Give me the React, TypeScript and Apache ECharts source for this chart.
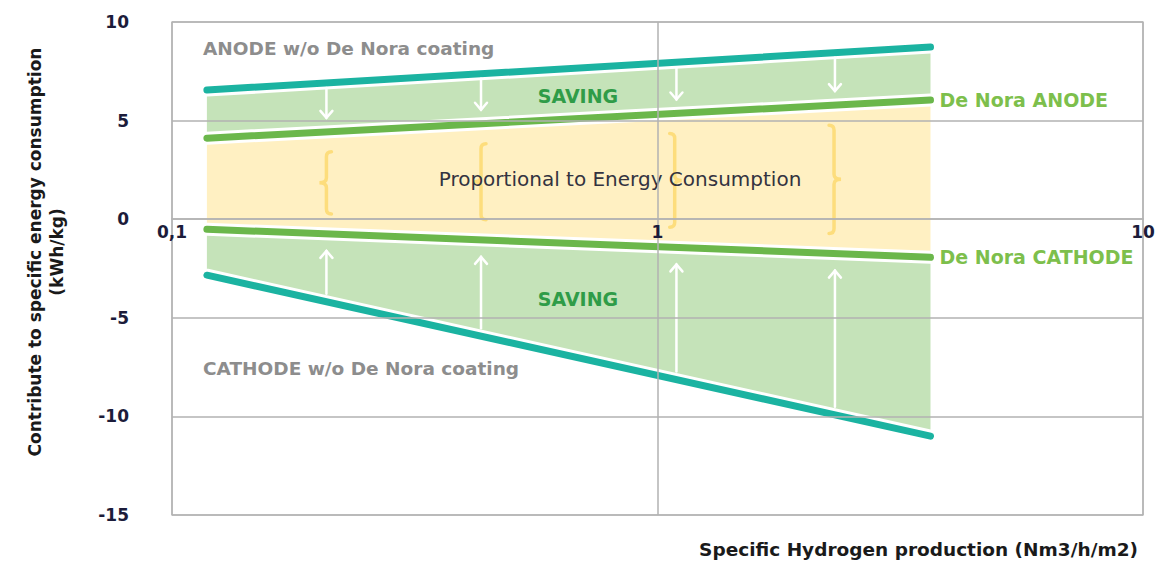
import React, { useEffect, useRef } from "react";
import * as echarts from "echarts";

// ---- data ----
const X_RANGE = [0.118, 3.65]; // Specific hydrogen production (Nm3/h/m2) at line ends
const ANODE_WO = [6.55, 8.73];
const DENORA_ANODE = [4.11, 6.04];
const DENORA_CATHODE = [-0.51, -1.93];
const CATHODE_WO = [-2.84, -11.0];
const ARROW_X = [0.208, 0.433, 1.094, 2.32];
const BRACE_X = [0.208, 0.433, 1.085, 2.31];
const BRACE_SIDE = ["left", "left", "right", "right"];
const X_MIN = 0.1;
const X_MAX = 10;
const Y_MIN = -15;
const Y_MAX = 10;
const Y_STEP = 5;

const TEAL = "#1bb3a1";
const GREEN = "#6bb74b";
const LIGHT_GREEN = "#c5e3b9";
const YELLOW = "#fff0c2";
const BRACE = "#fddd7c";
const GRID_LINE = "#b2b2b2";
const FONT = "DejaVu Sans";

const GRID_TOP = 22;
const GRID_BOTTOM = 48;
const CHART_H = 563;

const BANDS = [
  { top: ANODE_WO, bot: DENORA_ANODE, color: LIGHT_GREEN },
  { top: DENORA_ANODE, bot: DENORA_CATHODE, color: YELLOW },
  { top: DENORA_CATHODE, bot: CATHODE_WO, color: LIGHT_GREEN },
];

function at(line: number[], x: number) {
  const t =
    (Math.log(x) - Math.log(X_RANGE[0])) /
    (Math.log(X_RANGE[1]) - Math.log(X_RANGE[0]));
  return line[0] + t * (line[1] - line[0]);
}

function lineSeries(name: string, vals: number[], color: string, endLabel: boolean) {
  const data = [
    [X_RANGE[0], vals[0]],
    [X_RANGE[1], vals[1]],
  ];
  return [
    {
      type: "line",
      name: name + "_gap",
      data,
      symbol: "none",
      silent: true,
      z: 3,
      lineStyle: { color: "#ffffff", width: 13, cap: "round" },
    },
    {
      type: "line",
      name,
      data,
      symbol: "none",
      silent: true,
      z: 4,
      lineStyle: { color, width: 7, cap: "round" },
      endLabel: endLabel
        ? {
            show: true,
            formatter: name,
            color: "#7dbf4c",
            fontFamily: FONT,
            fontWeight: "bold",
            fontSize: 19,
            distance: 9,
          }
        : { show: false },
    },
  ];
}

export default function App() {
  const ref = useRef<HTMLDivElement>(null);
  useEffect(() => {
    document.body.style.margin = "0";
    const chart = echarts.init(ref.current!, null, { renderer: "svg" });
    const plotH = CHART_H - GRID_TOP - GRID_BOTTOM;
    const zeroOffset = -((0 - Y_MIN) / (Y_MAX - Y_MIN)) * plotH;
    const option: any = {
      animation: false,
      backgroundColor: "#ffffff",
      grid: {
        left: 172,
        right: 21,
        top: GRID_TOP,
        bottom: GRID_BOTTOM,
        show: true,
        borderColor: "#c4c4c4",
        borderWidth: 1.5,
      },
      xAxis: {
        type: "log",
        logBase: 10,
        min: X_MIN,
        max: X_MAX,
        offset: zeroOffset,
        z: 10,
        axisLine: { show: true, onZero: false, lineStyle: { color: GRID_LINE, width: 1.5 } },
        axisTick: { show: false },
        splitLine: { show: true, lineStyle: { color: GRID_LINE, width: 1.5 } },
        axisLabel: {
          fontFamily: FONT,
          fontSize: 17,
          fontWeight: "bold",
          color: "#1c1c3a",
          margin: 4,
          formatter: (v: number) => String(v).replace(".", ","),
        },
      },
      yAxis: {
        type: "value",
        min: Y_MIN,
        max: Y_MAX,
        interval: Y_STEP,
        z: 10,
        axisLine: { show: false },
        axisTick: { show: false },
        splitLine: { show: true, lineStyle: { color: GRID_LINE, width: 1.5 } },
        axisLabel: {
          fontFamily: FONT,
          fontSize: 17,
          fontWeight: "bold",
          color: "#1c1c3a",
          margin: 43,
        },
      },
      series: [
        {
          type: "custom",
          name: "bands",
          silent: true,
          z: 1,
          data: BANDS.map((b) => [X_RANGE[0], b.top[0]]),
          renderItem: (params: any, api: any) => {
            const b = BANDS[params.dataIndex];
            const pts = [
              api.coord([X_RANGE[0], b.top[0]]),
              api.coord([X_RANGE[1], b.top[1]]),
              api.coord([X_RANGE[1], b.bot[1]]),
              api.coord([X_RANGE[0], b.bot[0]]),
            ];
            return { type: "polygon", shape: { points: pts }, style: { fill: b.color } };
          },
        },
        ...lineSeries("ANODE w/o De Nora coating", ANODE_WO, TEAL, false),
        ...lineSeries("De Nora ANODE", DENORA_ANODE, GREEN, true),
        ...lineSeries("De Nora CATHODE", DENORA_CATHODE, GREEN, true),
        ...lineSeries("CATHODE w/o De Nora coating", CATHODE_WO, TEAL, false),
        {
          type: "custom",
          name: "arrows",
          silent: true,
          z: 5,
          data: ARROW_X.map((x) => [x, 0]),
          renderItem: (params: any, api: any) => {
            const x = ARROW_X[params.dataIndex];
            const aT = api.coord([x, at(ANODE_WO, x)]);
            const aG = api.coord([x, at(DENORA_ANODE, x)]);
            const cG = api.coord([x, at(DENORA_CATHODE, x)]);
            const cT = api.coord([x, at(CATHODE_WO, x)]);
            const px = aT[0];
            const st = { stroke: "#ffffff", lineWidth: 2.5, fill: "none", lineCap: "round" };
            const dTop = aT[1] + 5;
            const dTip = aG[1] - 14;
            const uBot = cT[1] - 8;
            const uTip = cG[1] + 17;
            return {
              type: "group",
              children: [
                { type: "line", shape: { x1: px, y1: dTop, x2: px, y2: dTip }, style: st },
                {
                  type: "polyline",
                  shape: { points: [[px - 6, dTip - 7], [px, dTip], [px + 6, dTip - 7]] },
                  style: st,
                },
                { type: "line", shape: { x1: px, y1: uBot, x2: px, y2: uTip }, style: st },
                {
                  type: "polyline",
                  shape: { points: [[px - 6, uTip + 7], [px, uTip], [px + 6, uTip + 7]] },
                  style: st,
                },
              ],
            };
          },
        },
        {
          type: "custom",
          name: "braces",
          silent: true,
          z: 5,
          data: BRACE_X.map((x) => [x, 0]),
          renderItem: (params: any, api: any) => {
            const i = params.dataIndex;
            const x = BRACE_X[i];
            const top = api.coord([x, at(DENORA_ANODE, x)])[1] + 20;
            const bot = api.coord([x, at(DENORA_CATHODE, x)])[1] - 20;
            const sx = api.coord([x, 0])[0];
            const m = (top + bot) / 2;
            const s = BRACE_SIDE[i] === "left" ? 1 : -1;
            const r = 5 * s;
            const w = 7 * s;
            const d =
              `M${sx + r},${top} Q${sx},${top} ${sx},${top + 5} ` +
              `L${sx},${m - 5} Q${sx},${m} ${sx - w},${m} ` +
              `Q${sx},${m} ${sx},${m + 5} L${sx},${bot - 5} ` +
              `Q${sx},${bot} ${sx + r},${bot}`;
            return {
              type: "path",
              shape: { pathData: d },
              style: { fill: "none", stroke: BRACE, lineWidth: 3.5, lineCap: "round" },
            };
          },
        },
      ],
      graphic: [
        {
          type: "text",
          x: 203,
          y: 48,
          style: {
            text: "ANODE w/o De Nora coating",
            fill: "#8d8d8d",
            font: `bold 18.5px "${FONT}"`,
            textVerticalAlign: "middle",
          },
        },
        {
          type: "text",
          x: 203,
          y: 368,
          style: {
            text: "CATHODE w/o De Nora coating",
            fill: "#8d8d8d",
            font: `bold 18.5px "${FONT}"`,
            textVerticalAlign: "middle",
          },
        },
        {
          type: "text",
          x: 578,
          y: 96,
          style: {
            text: "SAVING",
            fill: "#2f9c48",
            font: `bold 19px "${FONT}"`,
            textAlign: "center",
            textVerticalAlign: "middle",
          },
          z: 10,
        },
        {
          type: "text",
          x: 578,
          y: 299,
          style: {
            text: "SAVING",
            fill: "#2f9c48",
            font: `bold 19px "${FONT}"`,
            textAlign: "center",
            textVerticalAlign: "middle",
          },
          z: 10,
        },
        {
          type: "text",
          x: 620,
          y: 179,
          style: {
            text: "Proportional to Energy Consumption",
            fill: "#333340",
            font: `20px "${FONT}"`,
            textAlign: "center",
            textVerticalAlign: "middle",
          },
          z: 10,
        },
        {
          type: "text",
          x: 46,
          y: 252,
          rotation: Math.PI / 2,
          style: {
            text: "Contribute to specific energy consumption\n(kWh/kg)",
            fill: "#1a1a1a",
            font: `bold 17px "${FONT}"`,
            lineHeight: 22,
            textAlign: "center",
            textVerticalAlign: "middle",
          },
        },
        {
          type: "text",
          x: 1138,
          y: 549,
          style: {
            text: "Specific Hydrogen production (Nm3/h/m2)",
            fill: "#1a1a1a",
            font: `bold 18.5px "${FONT}"`,
            textAlign: "right",
            textVerticalAlign: "middle",
          },
        },
      ],
    };
    chart.setOption(option);
    return () => chart.dispose();
  }, []);
  return <div ref={ref} style={{ width: 1164, height: 563 }} />;
}
